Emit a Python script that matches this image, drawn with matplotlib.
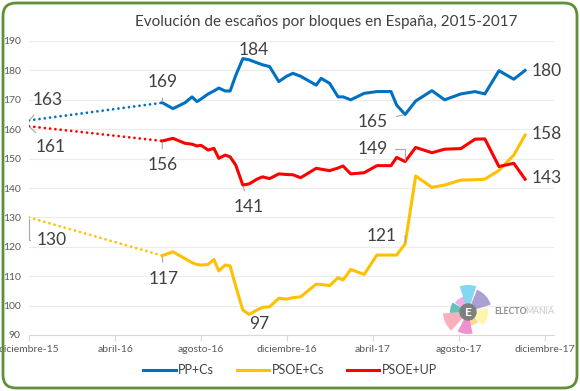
import matplotlib
matplotlib.use("Agg")
import matplotlib.pyplot as plt
import numpy as np
import pandas as pd
from matplotlib.patches import FancyBboxPatch, Wedge, Circle

plt.rcParams["font.family"] = ["Lato", "DejaVu Sans"]

# --- data ---
dates = pd.to_datetime([
    "2015-12-20", "2016-06-26", "2016-07-11", "2016-07-28", "2016-08-07",
    "2016-08-14", "2016-08-20", "2016-08-30", "2016-09-07", "2016-09-14",
    "2016-09-23", "2016-09-30", "2016-10-08", "2016-10-18", "2016-10-27",
    "2016-11-07", "2016-11-15", "2016-11-25", "2016-12-08", "2016-12-19",
    "2016-12-28", "2017-01-08", "2017-01-30", "2017-02-06", "2017-02-18",
    "2017-03-02", "2017-03-09", "2017-03-20", "2017-04-08", "2017-04-26",
    "2017-05-16", "2017-05-24", "2017-06-05", "2017-06-20", "2017-07-13",
    "2017-07-31", "2017-08-23", "2017-09-12", "2017-09-26", "2017-10-16",
    "2017-11-06", "2017-11-22",
])

pp_cs = [163, 169, 167, 169, 171, 169.4, 170.3, 172, 173, 174, 173, 173,
         178.3, 184, 183.6, 182.6, 181.9, 181.3, 176.2, 178, 179, 178, 175,
         177.3, 175.6, 171, 171, 170, 172.2, 172.8, 172.8, 168.2, 165, 169.6,
         173.1, 170, 172, 172.8, 172, 179.9, 177, 180]

psoe_cs = [130, 117, 118.3, 116, 114.6, 114, 113.8, 114, 115.7, 111.8, 113.8,
           113.5, 106.6, 98.5, 97, 98.5, 99.4, 99.6, 102.5, 102.2, 102.7, 103,
           107.3, 107.2, 106.8, 109.5, 108.7, 112.3, 110.6, 117.2, 117.2,
           117.2, 121, 144.1, 140.2, 141, 142.7, 142.8, 143, 146, 151.2, 158]

psoe_up = [161, 156, 156.9, 155.2, 154.9, 154.3, 154.5, 152.9, 153.5, 150.1,
           151.2, 150.6, 147.8, 141, 141.4, 143, 143.8, 143.2, 144.8, 144.6,
           144.5, 143.5, 146.7, 146.4, 145.9, 146.8, 147.5, 144.8, 145.2,
           147.6, 147.6, 150.4, 149, 153.8, 152, 153.2, 153.4, 156.6, 156.7,
           147.3, 148.4, 143]

series_names = ["PP+Cs", "PSOE+Cs", "PSOE+UP"]
tick_dates = pd.to_datetime(["2015-12-20", "2016-04-20", "2016-08-20",
                             "2016-12-20", "2017-04-20", "2017-08-20",
                             "2017-12-20"])
tick_labels = ["diciembre-15", "abril-16", "agosto-16", "diciembre-16",
               "abril-17", "agosto-17", "diciembre-17"]
y_ticks = [90, 100, 110, 120, 130, 140, 150, 160, 170, 180, 190]

colors = {"PP+Cs": "#0070c0", "PSOE+Cs": "#ffc000", "PSOE+UP": "#ff0000"}
values = {"PP+Cs": pp_cs, "PSOE+Cs": psoe_cs, "PSOE+UP": psoe_up}

# labelled points: (series, index, offset px, leader style)
labels = [
    ("PP+Cs", 0, (19, 20), "line"),
    ("PP+Cs", 1, (0, 21), "line"),
    ("PP+Cs", 13, (11, 9), None),
    ("PP+Cs", 32, (-32, -7), "line"),
    ("PP+Cs", 41, (22, -1), None),
    ("PSOE+UP", 0, (22, -21), "line"),
    ("PSOE+UP", 1, (0, -24), "line"),
    ("PSOE+UP", 13, (6, -22), "line"),
    ("PSOE+UP", 32, (-32, 13), "elbow"),
    ("PSOE+UP", 41, (22, 1), None),
    ("PSOE+Cs", 0, (23, -23), "elbow"),
    ("PSOE+Cs", 1, (1, -23), "line"),
    ("PSOE+Cs", 14, (10, -10), None),
    ("PSOE+Cs", 32, (-23, 8), "elbow"),
    ("PSOE+Cs", 41, (22, 1), None),
]

W, H = 580, 391
fig = plt.figure(figsize=(W / 100, H / 100), dpi=100)
ax = fig.add_axes([29 / W, 1 - 335 / H, (554 - 29) / W, (335 - 41) / H])

for name in series_names:
    v = values[name]
    ax.plot(dates[:2], v[:2], color=colors[name], lw=2, ls=(0, (0.01, 1.9)),
            dash_capstyle="round")
    ax.plot(dates[1:], v[1:], color=colors[name], lw=2.2, label=name,
            solid_joinstyle="round")

for name, idx, off, leader in labels:
    val = values[name][idx]
    arrow = None
    if leader == "line":
        arrow = dict(arrowstyle="-", color="#a6a6a6", lw=0.8, shrinkA=4, shrinkB=1)
    elif leader == "elbow":
        arrow = dict(arrowstyle="-", color="#a6a6a6", lw=0.8, shrinkA=3, shrinkB=1,
                     connectionstyle="angle,angleA=0,angleB=90,rad=0")
    ax.annotate(f"{val:.0f}", xy=(dates[idx], val), xytext=off,
                textcoords="offset pixels", ha="center", va="center",
                fontsize=12.5, color="#404040", arrowprops=arrow, zorder=5)

ax.set_ylim(90, 190)
ax.set_xlim(pd.Timestamp("2015-12-20"), pd.Timestamp("2018-01-02"))
ax.set_yticks(y_ticks)
ax.set_xticks(tick_dates)
ax.set_xticklabels(tick_labels)
ax.grid(axis="y", color="#ebebeb", lw=0.8)
ax.set_axisbelow(True)
for s in ["left", "right", "top"]:
    ax.spines[s].set_visible(False)
ax.spines["bottom"].set_color("#d9d9d9")
ax.tick_params(axis="y", length=0, labelsize=7.5, labelcolor="#595959", pad=6)
ax.tick_params(axis="x", length=4, color="#d9d9d9", labelsize=7.5,
               labelcolor="#595959", pad=3)

fig.text(326 / W, 1 - 22 / H, "Evolución de escaños por bloques en España, 2015-2017",
         ha="center", va="center", fontsize=11, color="#404040")

fig.legend(loc="center", bbox_to_anchor=(0.5, 1 - 370 / H), ncol=3,
           frameon=False, fontsize=9, handlelength=2.6, columnspacing=1.8,
           handletextpad=0.2, labelcolor="#404040")

# logo
lax = fig.add_axes([438 / W, 1 - 342 / H, 60 / W, 60 / H])
lax.set_xlim(-30, 30)
lax.set_ylim(-30, 30)
lax.axis("off")
petals = [(105, 145, 16, "#e3a6e3"), (72, 108, 27, "#6fd0ee"),
          (18, 68, 24, "#9d8fc9"), (-40, 12, 20, "#fff59d"),
          (-80, -42, 14, "#ffd180"), (-118, -78, 22, "#f07cc8"),
          (183, 228, 25, "#f9a3ae"), (148, 183, 18, "#4fb5b0")]
for a0, a1, r, c in petals:
    lax.add_patch(Wedge((0, 0), r, a0, a1, color=c, alpha=0.85, lw=0))
lax.add_patch(Circle((0, 0), 8, color="#7f7f7f"))
lax.text(0, 0, "E", ha="center", va="center", color="white", fontsize=8.5,
         fontweight="bold")
fig.text(494 / W, 1 - 312 / H, "ELECTO", ha="left", va="center", fontsize=6.3,
         color="#8c8c8c", fontweight="bold")
fig.text(525 / W, 1 - 312 / H, "MANIA", ha="left", va="center", fontsize=6.3,
         color="#c8c8c8")

border = FancyBboxPatch((0.03, 0.03), W / 100 - 0.06, H / 100 - 0.06,
                        boxstyle="round,pad=0,rounding_size=0.13",
                        transform=fig.dpi_scale_trans, fill=False,
                        edgecolor="#5f8f36", lw=2)
fig.patches.append(border)

fig.savefig("out.png", dpi=100)
